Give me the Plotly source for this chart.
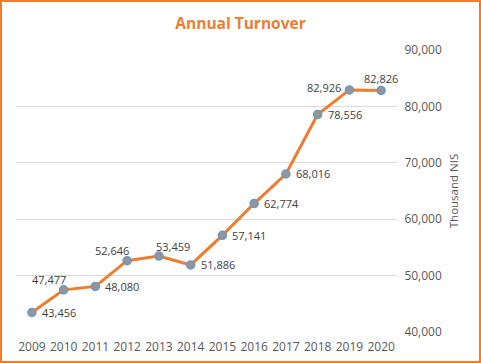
import plotly.graph_objects as go

years = ["2009", "2010", "2011", "2012", "2013", "2014", "2015", "2016", "2017", "2018", "2019", "2020"]
turnover = [43456, 47477, 48080, 52646, 53459, 51886, 57141, 62774, 68016, 78556, 82926, 82826]
label_side = ["right", "upleft", "right", "upleft", "upright", "right",
              "right", "right", "right", "right", "left", "up"]
y_ticks = [40000, 50000, 60000, 70000, 80000, 90000]

W, H = 481, 363
ml, mr, mt, mb = 16, 84, 50, 31
pw, ph = W - ml - mr, H - mt - mb
FONT = "Open Sans, sans-serif"

side_style = {
    "right": dict(xanchor="left", yanchor="middle", xshift=8, yshift=0),
    "left": dict(xanchor="right", yanchor="middle", xshift=-6, yshift=2),
    "up": dict(xanchor="center", yanchor="middle", xshift=0, yshift=12),
    "upleft": dict(xanchor="center", yanchor="middle", xshift=-15, yshift=10),
    "upright": dict(xanchor="center", yanchor="middle", xshift=14, yshift=10),
}

fig = go.Figure()
fig.add_trace(go.Scatter(
    x=years, y=turnover, mode="lines+markers",
    line=dict(color="#ED7D31", width=3),
    marker=dict(size=8, color="#959595", line=dict(color="#6B97C9", width=1.5)),
    cliponaxis=False, showlegend=False, hoverinfo="skip",
))

annotations = []
for i, (v, side) in enumerate(zip(turnover, label_side)):
    # category axis: position given by the category's index
    annotations.append(dict(x=i, y=v, xref="x", yref="y", text=f"{v:,}", showarrow=False,
                            font=dict(family=FONT, size=11, color="#404040"),
                            **side_style[side]))

fig.update_layout(
    width=W, height=H,
    margin=dict(l=ml, r=mr, t=mt, b=mb, autoexpand=False),
    paper_bgcolor="white", plot_bgcolor="white",
    annotations=annotations,
    title=dict(text="<b>Annual Turnover</b>", x=0.5, xanchor="center", y=1 - 24 / H, yanchor="middle",
               font=dict(family=FONT, size=15.5, color="#ED7D31")),
    xaxis=dict(type="category", showgrid=False, showline=False, zeroline=False, automargin=False,
               tickfont=dict(family=FONT, size=12, color="#595959"),
               ticks="outside", ticklen=4, tickcolor="rgba(0,0,0,0)", range=[-0.5, 11.5]),
    yaxis=dict(side="right", range=[40000, 90000], tickvals=y_ticks, automargin=False,
               tickformat=",", showgrid=True, gridcolor="#D9D9D9", gridwidth=1,
               zeroline=False, showline=False, ticks="outside", ticklen=4, tickcolor="rgba(0,0,0,0)",
               tickfont=dict(family=FONT, size=12, color="#595959"),
               title=dict(text="Thousand NIS", standoff=8,
                          font=dict(family=FONT, size=11.5, color="#595959"))),
)

fig.add_shape(type="rect", xref="paper", yref="paper",
              x0=-(ml - 1) / pw, x1=1 + (mr - 1) / pw,
              y0=-(mb - 1) / ph, y1=1 + (mt - 1) / ph,
              line=dict(color="#ED7D31", width=2), fillcolor="rgba(0,0,0,0)", layer="below")

fig.write_html("out.html", config={"responsive": False, "displayModeBar": False},
               post_script="document.body.style.margin='0';")
